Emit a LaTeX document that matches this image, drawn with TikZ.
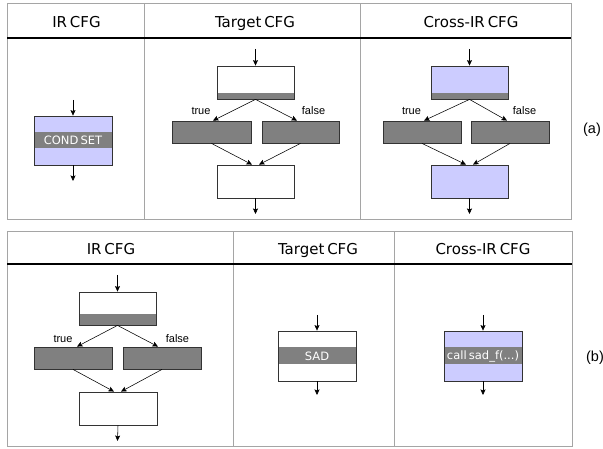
\documentclass[tikz,border=0pt]{standalone}
\usepackage{fontspec}
\setmainfont{DejaVu Sans}[WordSpace=0.6]
\newfontfamily\labelfont{Liberation Sans}
\usetikzlibrary{arrows.meta}
\definecolor{lavender}{RGB}{204,204,255}
\definecolor{bandgray}{RGB}{128,128,128}
\definecolor{framegray}{RGB}{165,165,165}
\tikzset{
  blk/.style={draw=black!80, line width=0.8pt, fill=white, inner sep=0pt, minimum width=77pt, minimum height=33pt, text=white, font=\fontsize{11.5}{13}\selectfont},
  cross/.style={fill=lavender},
  gblk/.style={blk, fill=bandgray, minimum height=22pt},
  midband/.style={path picture={\fill[bandgray] ([yshift=#1]path picture bounding box.west) rectangle ([yshift=-#1]path picture bounding box.east);}},
  lowband/.style={path picture={\fill[bandgray] (path picture bounding box.south west) rectangle ([yshift=#1]path picture bounding box.south east);}},
  flow/.style={-{Stealth[length=5.5pt,width=5pt,inset=1pt]}, line width=0.55pt},
  hdr/.style={anchor=base, font=\fontsize{15}{17}\selectfont},
  cond/.style={anchor=base, font=\labelfont\fontsize{11}{13}\selectfont},
  tag/.style={font=\labelfont\fontsize{14.5}{16}\selectfont},
  frame/.style={draw=framegray, line width=1pt},
  rule/.style={line width=1.3pt}
}
\begin{document}
\begin{tikzpicture}[x=1pt, y=-1pt]
  \useasboundingbox (0,0) rectangle (603,449);

  % (a) table
  \draw[frame] (7,4) rectangle (571,220);
  \draw[frame] (144,4) -- (144,220);
  \draw[frame] (360,4) -- (360,220);
  \draw[rule] (7,38) -- (571,38);
  \node[hdr] (ha-ir) at (76.5,28) {IR CFG};
  \node[hdr] (ha-tg) at (255,28) {Target CFG};
  \node[hdr] (ha-cr) at (471,28) {Cross-IR CFG};
  \node[tag] (ta) at (592,130) {(a)};

  \node[blk, cross, midband=8pt, minimum width=78pt, minimum height=49pt] (cs) at (73,140.5) {COND SET};
  \coordinate (cs-in) at (73,100);
  \coordinate (cs-out) at (73,181);
  \draw[flow] (cs-in) -- (cs.north);
  \draw[flow] (cs.south) -- (cs-out);

  \node[blk, lowband=6pt] (tg-top) at (255.5,82.5) {};
  \node[gblk, minimum width=79pt] (tg-left) at (211.5,132) {};
  \node[gblk] (tg-right) at (300.5,132) {};
  \node[blk] (tg-join) at (255.5,181.5) {};
  \coordinate (tg-in) at (255.5,49);
  \coordinate (tg-out) at (255.5,214);
  \draw[flow] (tg-in) -- (tg-top.north);
  \draw[flow] (tg-top.south) -- ([xshift=1.5pt]tg-left.north);
  \draw[flow] (tg-top.south) -- ([xshift=-3.5pt]tg-right.north);
  \draw[flow] (tg-left.south) -- ([xshift=-3.5pt]tg-join.north);
  \draw[flow] (tg-right.south) -- ([xshift=3.5pt]tg-join.north);
  \draw[flow] (tg-join.south) -- (tg-out);
  \node[cond] (tg-true) at (201,115) {true};
  \node[cond] (tg-false) at (313.5,115) {false};

  \node[blk, cross, lowband=6pt] (cr-top) at (469.5,82.5) {};
  \node[gblk, minimum width=78pt] (cr-left) at (422,132) {};
  \node[gblk, minimum width=78pt] (cr-right) at (510,132) {};
  \node[blk, cross] (cr-join) at (469.5,181.5) {};
  \coordinate (cr-in) at (469.5,49);
  \coordinate (cr-out) at (469.5,214);
  \draw[flow] (cr-in) -- (cr-top.north);
  \draw[flow] (cr-top.south) -- ([xshift=2pt]cr-left.north);
  \draw[flow] (cr-top.south) -- ([xshift=-3pt]cr-right.north);
  \draw[flow] (cr-left.south) -- ([xshift=-3.5pt]cr-join.north);
  \draw[flow] (cr-right.south) -- ([xshift=3.5pt]cr-join.north);
  \draw[flow] (cr-join.south) -- (cr-out);
  \node[cond] (cr-true) at (411.5,115) {true};
  \node[cond] (cr-false) at (524.5,115) {false};

  % (b) table
  \draw[frame] (7,232) rectangle (572,446);
  \draw[frame] (233,232) -- (233,446);
  \draw[frame] (394,232) -- (394,446);
  \draw[rule] (7,264) -- (572,264);
  \node[hdr] (hb-ir) at (111,255) {IR CFG};
  \node[hdr] (hb-tg) at (318,255) {Target CFG};
  \node[hdr] (hb-cr) at (483,255) {Cross-IR CFG};
  \node[tag] (tb) at (595,358) {(b)};

  \node[blk, lowband=11pt] (ir-top) at (117.5,308.5) {};
  \node[gblk, minimum width=78pt] (ir-left) at (73,358) {};
  \node[gblk, minimum width=78pt] (ir-right) at (162,358) {};
  \node[blk, minimum width=78pt] (ir-join) at (118,408.5) {};
  \coordinate (ir-in) at (117.5,275);
  \coordinate (ir-out) at (117.5,441);
  \draw[flow] (ir-in) -- (ir-top.north);
  \draw[flow] (ir-top.south) -- ([xshift=4pt]ir-left.north);
  \draw[flow] (ir-top.south) -- ([xshift=-4pt]ir-right.north);
  \draw[flow] (ir-left.south) -- ([xshift=-4pt]ir-join.north);
  \draw[flow] (ir-right.south) -- ([xshift=3pt]ir-join.north);
  \draw[flow] (ir-join.south) -- (ir-out);
  \node[cond] (ir-true) at (63,342) {true};
  \node[cond] (ir-false) at (177.5,342) {false};

  \node[blk, midband=8.5pt, minimum width=78pt, minimum height=50pt] (sad) at (317,356) {SAD};
  \coordinate (sad-in) at (317,315);
  \coordinate (sad-out) at (317,395);
  \draw[flow] (sad-in) -- (sad.north);
  \draw[flow] (sad.south) -- (sad-out);

  \node[blk, cross, midband=8.5pt, minimum width=78pt, minimum height=50pt] (call) at (483,356) {call sad\_f(...)};
  \coordinate (call-in) at (483,315);
  \coordinate (call-out) at (483,395);
  \draw[flow] (call-in) -- (call.north);
  \draw[flow] (call.south) -- (call-out);
\end{tikzpicture}
\end{document}
